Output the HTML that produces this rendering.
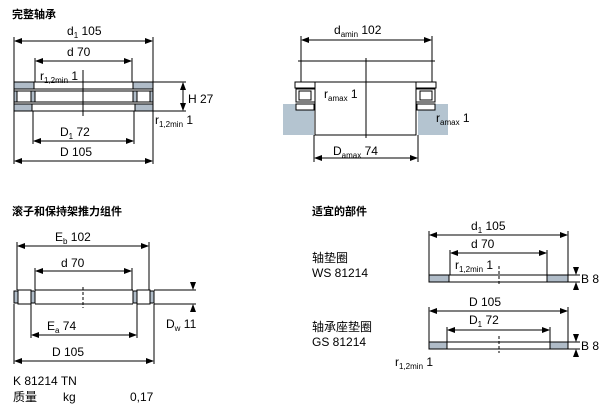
<!DOCTYPE html>
<html><head><meta charset="utf-8"><style>
body{margin:0;background:#fff;width:608px;height:412px;overflow:hidden}
svg{display:block}
text{font-family:"Liberation Sans","Noto Sans CJK SC",sans-serif;font-size:12px;fill:#000}
.t{font-weight:bold;font-size:11px}
.s{font-size:8px}
</style></head><body>
<svg width="608" height="412" viewBox="0 0 608 412">
<defs>
<marker id="a" markerWidth="8" markerHeight="6" refX="7" refY="3" orient="auto-start-reverse" markerUnits="userSpaceOnUse"><path d="M0,0 L8,3 L0,6z" fill="#000"/></marker>
</defs>
<g stroke="#000" stroke-width="1" fill="none">
<line x1="14" y1="37" x2="14" y2="164"/><line x1="153" y1="37" x2="153" y2="164"/>
<line x1="15" y1="41" x2="152" y2="41" marker-start="url(#a)" marker-end="url(#a)"/>
<line x1="35" y1="58" x2="35" y2="82"/><line x1="132" y1="58" x2="132" y2="82"/>
<line x1="36" y1="61" x2="131" y2="61" marker-start="url(#a)" marker-end="url(#a)"/>
<rect x="14" y="82" width="139" height="7" fill="#fff"/>
<rect x="14" y="82" width="20" height="7" fill="#b0bcc8"/><rect x="133" y="82" width="20" height="7" fill="#b0bcc8"/>
<rect x="14" y="91" width="3" height="11" fill="#b0bcc8"/><rect x="17" y="91" width="14" height="11" fill="#fff"/><rect x="31" y="91" width="4" height="11" fill="#b0bcc8"/>
<rect x="133" y="91" width="4" height="11" fill="#b0bcc8"/><rect x="137" y="91" width="13" height="11" fill="#fff"/><rect x="150" y="91" width="3" height="11" fill="#b0bcc8"/>
<line x1="35" y1="91" x2="133" y2="91"/><line x1="35" y1="102" x2="133" y2="102"/>
<rect x="14" y="104" width="139" height="7" fill="#fff"/>
<rect x="14" y="104" width="18" height="7" fill="#b0bcc8"/><rect x="135" y="104" width="18" height="7" fill="#b0bcc8"/>
<line x1="83" y1="70" x2="83" y2="116"/>
<line x1="153" y1="82" x2="186" y2="82"/><line x1="153" y1="111" x2="186" y2="111"/>
<line x1="183" y1="83" x2="183" y2="110" marker-start="url(#a)" marker-end="url(#a)"/>
<line x1="33" y1="111" x2="33" y2="144"/><line x1="134" y1="111" x2="134" y2="144"/>
<line x1="34" y1="141" x2="133" y2="141" marker-start="url(#a)" marker-end="url(#a)"/>
<line x1="15" y1="161" x2="152" y2="161" marker-start="url(#a)" marker-end="url(#a)"/>
<line x1="301" y1="36" x2="301" y2="82"/><line x1="432" y1="36" x2="432" y2="82"/>
<line x1="302" y1="40" x2="431" y2="40" marker-start="url(#a)" marker-end="url(#a)"/>
<line x1="298" y1="61" x2="435" y2="61"/>
<rect x="283" y="104" width="31" height="31" fill="#b4c4d0" stroke="none"/>
<rect x="418" y="104" width="30" height="31" fill="#b4c4d0" stroke="none"/>
<rect x="295" y="82" width="141" height="6" fill="#fff"/>
<rect x="315" y="82" width="101" height="53" fill="#fff"/>
<rect x="296" y="89" width="19" height="13" fill="#fff"/><rect x="299" y="91" width="12" height="9" fill="#fff"/>
<rect x="416" y="89" width="19" height="13" fill="#fff"/><rect x="420" y="91" width="12" height="9" fill="#fff"/>
<rect x="296" y="104" width="18" height="6" fill="#fff"/><rect x="417" y="104" width="18" height="6" fill="#fff"/>
<line x1="366" y1="58" x2="366" y2="138"/>
<line x1="314" y1="135" x2="314" y2="162"/><line x1="418" y1="135" x2="418" y2="162"/>
<line x1="315" y1="158" x2="417" y2="158" marker-start="url(#a)" marker-end="url(#a)"/>
<line x1="17" y1="242" x2="17" y2="290"/><line x1="149" y1="242" x2="149" y2="290"/>
<line x1="18" y1="246" x2="148" y2="246" marker-start="url(#a)" marker-end="url(#a)"/>
<line x1="35" y1="268" x2="35" y2="290"/><line x1="132" y1="268" x2="132" y2="290"/>
<line x1="36" y1="271" x2="131" y2="271" marker-start="url(#a)" marker-end="url(#a)"/>
<rect x="14" y="291" width="4" height="12" fill="#b0bcc8"/><rect x="18" y="290" width="13" height="14" fill="#fff"/><rect x="31" y="291" width="4" height="12" fill="#b0bcc8"/>
<rect x="133" y="291" width="4" height="12" fill="#b0bcc8"/><rect x="137" y="290" width="13" height="14" fill="#fff"/><rect x="150" y="291" width="4" height="12" fill="#b0bcc8"/>
<line x1="35" y1="290" x2="133" y2="290"/><line x1="35" y1="304" x2="133" y2="304"/>
<line x1="83" y1="287" x2="83" y2="308" stroke-dasharray="3,2"/>
<line x1="154" y1="290" x2="196" y2="290"/><line x1="154" y1="304" x2="196" y2="304"/>
<line x1="193" y1="282" x2="193" y2="289" marker-end="url(#a)"/><line x1="193" y1="312" x2="193" y2="305" marker-end="url(#a)"/>
<line x1="31" y1="304" x2="31" y2="338"/><line x1="137" y1="304" x2="137" y2="338"/>
<line x1="32" y1="335" x2="136" y2="335" marker-start="url(#a)" marker-end="url(#a)"/>
<line x1="14" y1="304" x2="14" y2="364"/><line x1="154" y1="304" x2="154" y2="364"/>
<line x1="15" y1="361" x2="153" y2="361" marker-start="url(#a)" marker-end="url(#a)"/>
<line x1="429" y1="231" x2="429" y2="275"/><line x1="568" y1="231" x2="568" y2="275"/>
<line x1="430" y1="235" x2="567" y2="235" marker-start="url(#a)" marker-end="url(#a)"/>
<line x1="450" y1="250" x2="450" y2="275"/><line x1="547" y1="250" x2="547" y2="275"/>
<line x1="451" y1="253" x2="546" y2="253" marker-start="url(#a)" marker-end="url(#a)"/>
<rect x="429" y="275" width="139" height="7" fill="#fff"/>
<rect x="429" y="275" width="20" height="7" fill="#b0bcc8"/><rect x="547" y="275" width="21" height="7" fill="#b0bcc8"/>
<line x1="499" y1="266" x2="499" y2="286" stroke-dasharray="3,2"/>
<line x1="568" y1="275" x2="580" y2="275"/><line x1="568" y1="282" x2="580" y2="282"/>
<line x1="576" y1="267" x2="576" y2="274" marker-end="url(#a)"/><line x1="576" y1="290" x2="576" y2="283" marker-end="url(#a)"/>
<line x1="429" y1="307" x2="429" y2="342"/><line x1="568" y1="307" x2="568" y2="342"/>
<line x1="430" y1="311" x2="567" y2="311" marker-start="url(#a)" marker-end="url(#a)"/>
<line x1="447" y1="327" x2="447" y2="342"/><line x1="550" y1="327" x2="550" y2="342"/>
<line x1="448" y1="330" x2="549" y2="330" marker-start="url(#a)" marker-end="url(#a)"/>
<rect x="429" y="342" width="139" height="7" fill="#fff"/>
<rect x="429" y="342" width="18" height="7" fill="#b0bcc8"/><rect x="550" y="342" width="18" height="7" fill="#b0bcc8"/>
<line x1="499" y1="336" x2="499" y2="353" stroke-dasharray="3,2"/>
<line x1="568" y1="342" x2="580" y2="342"/><line x1="568" y1="349" x2="580" y2="349"/>
<line x1="576" y1="334" x2="576" y2="341" marker-end="url(#a)"/><line x1="576" y1="357" x2="576" y2="350" marker-end="url(#a)"/>
</g>
<text x="12" y="18" class="t">完整轴承</text>
<text x="67" y="35">d<tspan class="s" dy="3">1</tspan><tspan dy="-3">  105</tspan></text>
<text x="67" y="56">d  70</text>
<text x="40" y="80">r<tspan class="s" dy="3">1,2min</tspan><tspan dy="-3">  1</tspan></text>
<text x="188" y="103">H  27</text>
<text x="155" y="124">r<tspan class="s" dy="3">1,2min</tspan><tspan dy="-3">   1</tspan></text>
<text x="60" y="136">D<tspan class="s" dy="3">1</tspan><tspan dy="-3">  72</tspan></text>
<text x="60" y="156">D 105</text>
<text x="334" y="34">d<tspan class="s" dy="3">amin</tspan><tspan dy="-3">  102</tspan></text>
<text x="324" y="98">r<tspan class="s" dy="3">amax</tspan><tspan dy="-3">  1</tspan></text>
<text x="436" y="122">r<tspan class="s" dy="3">amax</tspan><tspan dy="-3">   1</tspan></text>
<text x="333" y="155">D<tspan class="s" dy="3">amax</tspan><tspan dy="-3">  74</tspan></text>
<text x="12" y="215" class="t">滚子和保持架推力组件</text>
<text x="55" y="241">E<tspan class="s" dy="3">b</tspan><tspan dy="-3">  102</tspan></text>
<text x="61" y="267">d  70</text>
<text x="47" y="330">E<tspan class="s" dy="3">a</tspan><tspan dy="-3">  74</tspan></text>
<text x="166" y="328">D<tspan class="s" dy="3">w</tspan><tspan dy="-3">    11</tspan></text>
<text x="52" y="356">D 105</text>
<text x="13" y="385">K 81214 TN</text>
<text x="13" y="401">质量</text>
<text x="63" y="401">kg</text>
<text x="130" y="401">0,17</text>
<text x="312" y="215" class="t">适宜的部件</text>
<text x="471" y="230">d<tspan class="s" dy="3">1</tspan><tspan dy="-3">  105</tspan></text>
<text x="471" y="248">d  70</text>
<text x="455" y="269">r<tspan class="s" dy="3">1,2min</tspan><tspan dy="-3">   1</tspan></text>
<text x="312" y="262">轴垫圈</text>
<text x="312" y="277">WS 81214</text>
<text x="581" y="283">B  8</text>
<text x="469" y="306">D  105</text>
<text x="469" y="324">D<tspan class="s" dy="3">1</tspan><tspan dy="-3">  72</tspan></text>
<text x="312" y="331">轴承座垫圈</text>
<text x="312" y="346">GS 81214</text>
<text x="581" y="350">B  8</text>
<text x="395" y="366">r<tspan class="s" dy="3">1,2min</tspan><tspan dy="-3">  1</tspan></text>
</svg>
</body></html>
